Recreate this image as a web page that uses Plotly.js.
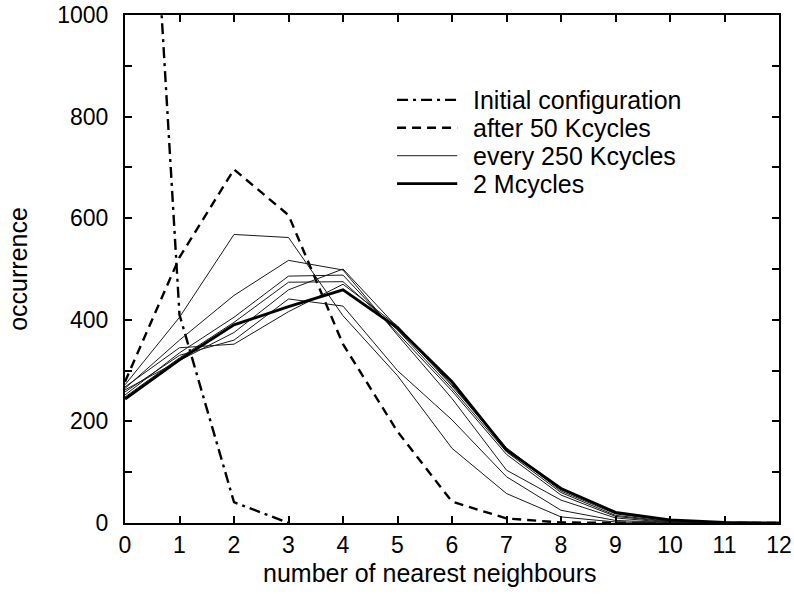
<!DOCTYPE html>
<html>
<head>
<meta charset="utf-8">
<script src="https://cdn.plot.ly/plotly-3.0.1.min.js"></script>
<style>
  html, body { margin: 0; padding: 0; background: #fff; }
  #chart { width: 794px; height: 594px; }
</style>
</head>
<body>
<div id="chart"></div>
<script>
// Number of nearest neighbours (x axis)
const neighbours = [0, 1, 2, 3, 4, 5, 6, 7, 8, 9, 10, 11, 12];

// Initial configuration (leaves the frame above 1000 near x = 0.67)
const initialX = [0, 1, 2, 3];
const initialY = [2210, 410, 41, 0];

// After 50 Kcycles
const after50k = [278, 523, 696, 606, 352, 180, 42, 9, 1, 0, 0, 0, 0];

// Snapshots every 250 Kcycles
const snap250 = [272, 405, 568, 562, 408, 290, 147, 58, 12, 2, 0, 0, 0];
const snap500 = [258, 330, 360, 441, 427, 300, 203, 91, 25, 5, 1, 0, 0];
const snap750 = [265, 360, 448, 517, 498, 370, 245, 104, 45, 10, 1, 0, 0];
const snap1000 = [252, 335, 405, 486, 488, 375, 260, 135, 55, 13, 2, 0, 0];
const snap1250 = [248, 325, 395, 474, 475, 380, 265, 140, 60, 15, 3, 0, 0];
const snap1500 = [262, 320, 375, 459, 500, 385, 270, 145, 63, 18, 4, 1, 0];
const snap1750 = [268, 345, 352, 416, 470, 388, 272, 148, 66, 20, 5, 1, 0];

// Final state, 2 Mcycles
const final2M = [244, 321, 390, 426, 459, 384, 278, 144, 68, 21, 6, 1, 0];

const snapshots = [snap250, snap500, snap750, snap1000, snap1250, snap1500, snap1750];

// Axis tick labels
const xTickVals = [0, 1, 2, 3, 4, 5, 6, 7, 8, 9, 10, 11, 12];
const yTickVals = [0, 100, 200, 300, 400, 500, 600, 700, 800, 900, 1000];
const yTickText = ['0', '', '200', '', '400', '', '600', '', '800', '', '1000'];

// Key entries: label and line style
const keyLabels = ['Initial configuration', 'after 50 Kcycles', 'every 250 Kcycles', '2 Mcycles'];

const FONT = 'Liberation Sans, Arial, Helvetica, sans-serif';

const styles = [
  { color: '#000', width: 2.4, dash: '11px,5px,3px,5px' },
  { color: '#000', width: 2.4, dash: '9px,6px' },
  { color: '#1a1a1a', width: 1 },
  { color: '#000', width: 2.8 }
];

const traces = [];

traces.push({
  x: initialX, y: initialY, type: 'scatter', mode: 'lines',
  name: keyLabels[0], line: styles[0]
});

traces.push({
  x: neighbours, y: after50k, type: 'scatter', mode: 'lines',
  name: keyLabels[1], line: styles[1]
});

snapshots.forEach(function (s) {
  traces.push({
    x: neighbours, y: s, type: 'scatter', mode: 'lines',
    name: keyLabels[2], legendgroup: 'snap', line: styles[2]
  });
});

traces.push({
  x: neighbours, y: final2M, type: 'scatter', mode: 'lines',
  name: keyLabels[3], line: styles[3]
});

// Compact key in the upper right of the frame (tight gnuplot-style row spacing)
const keyRowY = [0.833, 0.778, 0.723, 0.668];
const keySampleX = [0.416, 0.508];
const keyTextX = 0.529;

const shapes = keyLabels.map(function (lbl, i) {
  return {
    type: 'line', xref: 'paper', yref: 'paper',
    x0: keySampleX[0], x1: keySampleX[1], y0: keyRowY[i], y1: keyRowY[i],
    line: styles[i]
  };
});

const annotations = keyLabels.map(function (lbl, i) {
  return {
    text: lbl, xref: 'paper', yref: 'paper',
    x: keyTextX, y: keyRowY[i], xanchor: 'left', yanchor: 'middle',
    showarrow: false, font: { family: FONT, size: 25, color: '#000' }
  };
});

// x-axis title, set slightly left of the frame centre
annotations.push({
  text: 'number of nearest neighbours', xref: 'paper', yref: 'paper',
  x: 0.466, y: -0.098, xanchor: 'center', yanchor: 'middle',
  showarrow: false, font: { family: FONT, size: 25, color: '#000' }
});

const layout = {
  width: 794, height: 594,
  margin: { l: 125, r: 15, t: 15, b: 71 },
  paper_bgcolor: '#fff', plot_bgcolor: '#fff',
  font: { family: FONT, color: '#000', size: 23 },
  showlegend: false,
  shapes: shapes,
  annotations: annotations,
  xaxis: {
    range: [0, 12], tickvals: xTickVals,
    ticks: 'inside', ticklen: 7, tickwidth: 2, tickcolor: '#000',
    showline: true, linewidth: 2, linecolor: '#000', mirror: 'ticks',
    showgrid: false, zeroline: false,
    tickfont: { family: FONT, size: 23 }
  },
  yaxis: {
    range: [0, 1000], tickvals: yTickVals, ticktext: yTickText,
    ticks: 'inside', ticklen: 7, tickwidth: 2, tickcolor: '#000',
    showline: true, linewidth: 2, linecolor: '#000', mirror: 'ticks',
    showgrid: false, zeroline: false,
    ticklabelstandoff: 10,
    tickfont: { family: FONT, size: 23 },
    title: { text: 'occurrence', font: { family: FONT, size: 25 }, standoff: 22 }
  }
};

Plotly.newPlot('chart', traces, layout, { displayModeBar: false, staticPlot: true });
</script>
</body>
</html>
